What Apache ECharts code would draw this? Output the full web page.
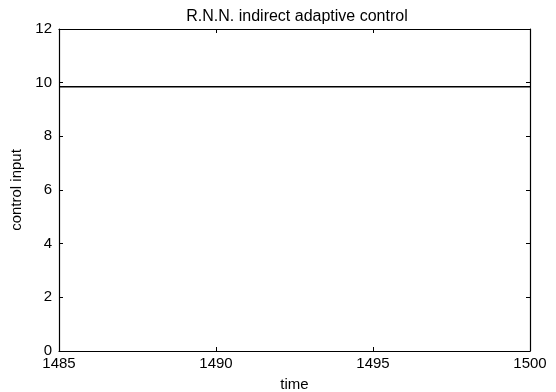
<!DOCTYPE html>
<html><head><meta charset="utf-8">
<script src="https://cdn.jsdelivr.net/npm/echarts@6/dist/echarts.min.js"></script>
<style>html,body{margin:0;padding:0;background:#fff}#c{width:556px;height:392px}</style>
</head><body><div id="c"></div>
<script>
const titleText = "R.N.N. indirect adaptive control";
const xName = "time";
const yName = "control input";
const times = [1485, 1486, 1487, 1488, 1489, 1490, 1491, 1492, 1493, 1494, 1495, 1496, 1497, 1498, 1499, 1500];
const controlInput = [9.85, 9.85, 9.85, 9.85, 9.85, 9.85, 9.85, 9.85, 9.85, 9.85, 9.85, 9.85, 9.85, 9.85, 9.85, 9.85];

const chart = echarts.init(document.getElementById('c'), null, {renderer: 'canvas'});
const font = 'Liberation Sans, Arial, sans-serif';
const axisCommon = {
  axisLine: {show: true, onZero: false, lineStyle: {color: '#000', width: 1.2}},
  axisTick: {show: true, inside: true, length: 4, lineStyle: {color: '#000'}},
  splitLine: {show: false}
};
chart.setOption({
  animation: false,
  backgroundColor: '#fff',
  title: {text: titleText, left: 292, top: 4, textAlign: 'center',
    textStyle: {fontFamily: font, fontSize: 16, fontWeight: 'normal', color: '#000'}},
  grid: {left: 59, right: 26, top: 29, bottom: 41, show: false, containLabel: false, outerBoundsMode: 'none'},
  xAxis: [
    Object.assign({type: 'value', min: 1485, max: 1500, interval: 5, position: 'bottom',
      name: xName, nameLocation: 'middle', nameGap: 26,
      nameTextStyle: {fontFamily: font, fontSize: 15, color: '#000'},
      axisLabel: {fontFamily: font, fontSize: 15, color: '#000', margin: 5,
        formatter: v => String(v)}}, axisCommon),
    Object.assign({type: 'value', min: 1485, max: 1500, interval: 5, position: 'top',
      axisLabel: {show: false}}, axisCommon)
  ],
  yAxis: [
    Object.assign({type: 'value', min: 0, max: 12, interval: 2, position: 'left',
      name: yName, nameLocation: 'middle', nameGap: 32, nameRotate: 90,
      nameTextStyle: {fontFamily: font, fontSize: 15, color: '#000'},
      axisLabel: {fontFamily: font, fontSize: 15, color: '#000', margin: 7}}, axisCommon),
    Object.assign({type: 'value', min: 0, max: 12, interval: 2, position: 'right',
      axisLabel: {show: false}}, axisCommon)
  ],
  series: [{
    type: 'line', xAxisIndex: 0, yAxisIndex: 0, showSymbol: false,
    data: times.map((t, i) => [t, controlInput[i]]),
    lineStyle: {color: '#000', width: 1.5}
  }]
});
</script></body></html>
